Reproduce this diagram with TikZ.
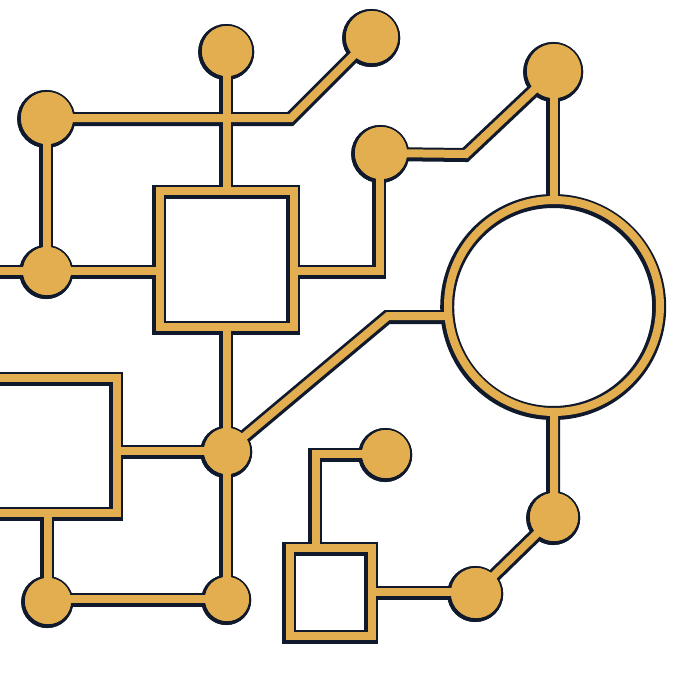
\documentclass[tikz,border=0pt]{standalone}
\definecolor{gold}{RGB}{226,174,80}
\definecolor{ink}{RGB}{16,26,44}
\newcommand\circuitlayer{%
  % boxes and ring
  \node[frame, minimum width=134, minimum height=136] (sq1) at (227,259) {};
  \node[frame, minimum width=150, minimum height=135] (sq2) at (42,445.5) {};
  \node[frame, minimum width=82, minimum height=88] (sq3) at (331,592) {};
  \node[frame, circle, minimum size=212] (ring) at (554,306) {};
  % pads
  \node[dot=52] (c1) at (47,118) {};
  \node[dot=50] (c2) at (227,51) {};
  \node[dot=52] (c3) at (372,37) {};
  \node[dot=54] (c4) at (554,71) {};
  \node[dot=52] (c5) at (381,153) {};
  \node[dot=48] (c6) at (47,271) {};
  \node[dot=46] (c7) at (227,451) {};
  \node[dot=46] (c8) at (48,601) {};
  \node[dot=44] (c9) at (227,599) {};
  \node[dot=48] (c10) at (386,454) {};
  \node[dot=48] (c11) at (554,517) {};
  \node[dot=50] (c12) at (476,593) {};
  \coordinate (b1) at (291,118);
  \coordinate (b2) at (380,271);
  \coordinate (b3) at (466,154);
  \coordinate (b4) at (388,316);
  \coordinate (b5) at (316,454);
  \coordinate (ledge) at (-10,271);
  % connectors
  \draw[wire] (c1.center) -- (b1) -- (c3.center);
  \draw[wire] (c2.center) -- (sq1.north);
  \draw[wire] (c1.center) -- (c6.center);
  \draw[wire] (ledge) -- (c6.center) -- (sq1.west |- c6.center);
  \draw[wire] (sq1.east |- b2) -- (b2) -- (b2 |- c5.center) -- (c5.center);
  \draw[wire] (c5.center) -- (b3) -- (c4.center);
  \draw[wire] (c4.center) -- (ring.north);
  \draw[wire] (sq1.south) -- (c7.center) -- (c9.center);
  \draw[wire] (sq2.east |- c7.center) -- (c7.center);
  \draw[wire] (c7.center) -- (b4) -- (ring.west |- b4);
  \draw[wire] (c8.center |- sq2.south) -- (c8.center |- c9.center) -- (c9.center);
  \draw[wire] (sq3.north -| b5) -- (b5) -- (c10.center);
  \draw[wire] (sq3.east) -- (c12.center |- sq3.east);
  \draw[wire] (c12.center) -- (c11.center) -- (ring.south);
  % redraw pads on top
  \fill[padfill] (c1.center) circle (26) (c2.center) circle (25) (c3.center) circle (26)
    (c4.center) circle (27) (c5.center) circle (26) (c6.center) circle (24)
    (c7.center) circle (23) (c8.center) circle (23) (c9.center) circle (22)
    (c10.center) circle (24) (c11.center) circle (24) (c12.center) circle (25);
}
\begin{document}
\begin{tikzpicture}[x=1pt,y=-1pt]
  \useasboundingbox (0,0) rectangle (678,678);
  \fill[white] (0,0) rectangle (678,678);
  \begin{scope}[transform canvas={shift={(-0.8pt,-1pt)}},
      frame/.style={rectangle, draw=ink, line width=14, inner sep=0pt, outer sep=0pt},
      dot/.style={circle, inner sep=0pt, outer sep=0pt, minimum size=#1, fill=ink, draw=ink, line width=6},
      wire/.style={draw=ink, line width=14},
      padfill/.style={ink, draw=ink, line width=6}]
    \circuitlayer
  \end{scope}
  \begin{scope}[
      frame/.style={rectangle, draw=gold, line width=8, inner sep=0pt, outer sep=0pt},
      dot/.style={circle, inner sep=0pt, outer sep=0pt, minimum size=#1, fill=gold},
      wire/.style={draw=gold, line width=8},
      padfill/.style={gold}]
    \circuitlayer
  \end{scope}
\end{tikzpicture}
\end{document}
